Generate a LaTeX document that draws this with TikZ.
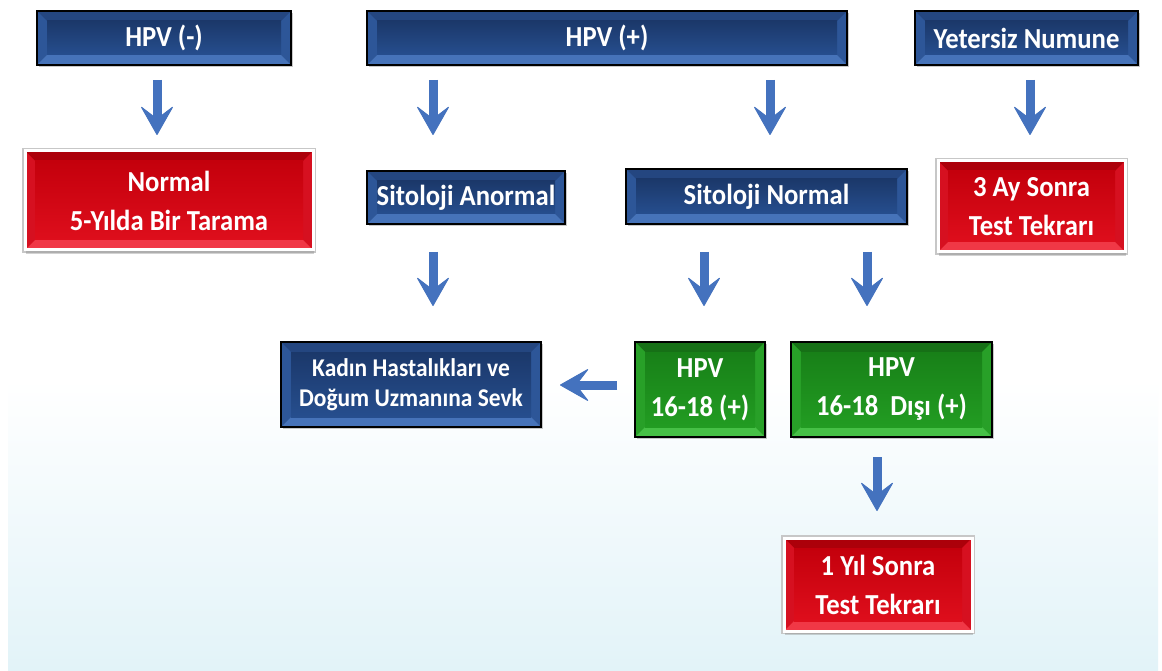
\documentclass[tikz,border=0pt]{standalone}
\usepackage{fontspec}
\setmainfont{Carlito}[FakeStretch=0.92]
\usetikzlibrary{arrows.meta,shadows}
\definecolor{arrowblue}{RGB}{68,114,190}
\definecolor{bgblue}{RGB}{226,243,248}
\definecolor{navyA}{RGB}{27,56,106}
\definecolor{navyB}{RGB}{38,78,142}
\definecolor{navyTop}{RGB}{36,70,128}
\definecolor{navySide}{RGB}{45,86,152}
\definecolor{navyBot}{RGB}{70,115,185}
\definecolor{grnA}{RGB}{24,128,24}
\definecolor{grnB}{RGB}{34,156,34}
\definecolor{grnTop}{RGB}{22,112,22}
\definecolor{grnSide}{RGB}{40,160,40}
\definecolor{grnBot}{RGB}{70,192,70}
\definecolor{redA}{RGB}{196,0,12}
\definecolor{redB}{RGB}{222,14,28}
\definecolor{redTop}{RGB}{172,0,10}
\definecolor{redSide}{RGB}{214,16,32}
\definecolor{redBot}{RGB}{240,56,70}
\tikzset{
  bevel/.style n args={5}{path picture={
    \fill[#3] (path picture bounding box.north west) -- (path picture bounding box.north east)
      -- ([shift={(-10,10)}]path picture bounding box.north east) -- ([shift={(10,10)}]path picture bounding box.north west) -- cycle;
    \fill[#4] (path picture bounding box.north west) -- ([shift={(10,10)}]path picture bounding box.north west)
      -- ([shift={(10,-10)}]path picture bounding box.south west) -- (path picture bounding box.south west) -- cycle;
    \fill[#4] (path picture bounding box.north east) -- ([shift={(-10,10)}]path picture bounding box.north east)
      -- ([shift={(-10,-10)}]path picture bounding box.south east) -- (path picture bounding box.south east) -- cycle;
    \fill[#5] (path picture bounding box.south west) -- (path picture bounding box.south east)
      -- ([shift={(-10,-10)}]path picture bounding box.south east) -- ([shift={(10,-10)}]path picture bounding box.south west) -- cycle;
    \shade[top color=#1, bottom color=#2] ([shift={(10,10)}]path picture bounding box.north west) rectangle ([shift={(-10,-10)}]path picture bounding box.south east);
  }},
  box/.style={inner sep=0pt, outer sep=0pt, align=center, text=white,
    font=\bfseries\fontsize{29}{39}\selectfont},
  bluebox/.style={box, draw=black, line width=2.5pt, fill=navyA,
    bevel={navyA}{navyB}{navyTop}{navySide}{navyBot},
    drop shadow={shadow xshift=1.5pt, shadow yshift=-2pt, fill=black!60, opacity=0.35}},
  greenbox/.style={box, draw=black, line width=2.5pt, fill=grnA,
    bevel={grnA}{grnB}{grnTop}{grnSide}{grnBot},
    drop shadow={shadow xshift=1.5pt, shadow yshift=-2pt, fill=black!60, opacity=0.35}},
  redbox/.style={box, draw=white, line width=3pt, fill=redA,
    preaction={draw=black!22, line width=6pt},
    bevel={redA}{redB}{redTop}{redSide}{redBot},
    drop shadow={shadow xshift=1pt, shadow yshift=-4pt, fill=black!50, opacity=0.35}},
  arr/.style={draw=arrowblue, line width=9pt,
    -{Stealth[length=30pt, width=34pt, inset=13pt, line width=1pt, round]}},
}
\begin{document}
\begin{tikzpicture}[x=1pt, y=-1pt]
\useasboundingbox (0,0) rectangle (1162,671);
\fill[white] (0,0) rectangle (1162,671);
\shade[top color=white, bottom color=bgblue] (8,380) rectangle (1158,671);

% top row
\node[bluebox, minimum width=254pt, minimum height=54pt] (hpvneg) at (164,38) {HPV (-)};
\node[bluebox, minimum width=480pt, minimum height=54pt] (hpvpos) at (607,38) {HPV (+)};
\node[bluebox, minimum width=223pt, minimum height=54pt] (yet) at (1026.5,38) {Yetersiz Numune};

% second row
\node[redbox, minimum width=288pt, minimum height=99pt] (normal) at (169,200.5) {Normal\\5-Yılda Bir Tarama};
\node[bluebox, minimum width=198pt, minimum height=53pt] (sitan) at (466,197.5) {Sitoloji Anormal};
\node[bluebox, minimum width=281pt, minimum height=55pt] (sitnorm) at (766.5,196.5) {Sitoloji Normal};
\node[redbox, minimum width=187pt, minimum height=91pt] (ucay) at (1031.5,206.5) {3 Ay Sonra\\Test Tekrarı};

% third row
\node[bluebox, minimum width=260pt, minimum height=85pt, font=\bfseries\fontsize{25.5}{30}\selectfont] (kadin) at (411,384.5) {Kadın Hastalıkları ve\\Doğum Uzmanına Sevk};
\node[greenbox, minimum width=130pt, minimum height=95pt] (hpv1618) at (700,389.5) {HPV\\16-18 (+)};
\node[greenbox, minimum width=201pt, minimum height=95pt] (disi) at (891.5,389.5) {HPV\\16-18~ Dışı (+)};

% bottom
\node[redbox, minimum width=188pt, minimum height=93pt] (biryil) at (878,584.5) {1 Yıl Sonra\\Test Tekrarı};

% arrows
\draw[arr, shorten <=15pt, shorten >=16pt] ([xshift=-7pt]hpvneg.south) -- ([xshift=-12pt]normal.north);
\draw[arr, shorten <=15pt, shorten >=36pt] ([xshift=-174pt]hpvpos.south) -- ([xshift=-33pt]sitan.north);
\draw[arr, shorten <=15pt, shorten >=34pt] ([xshift=163pt]hpvpos.south) -- ([xshift=3.5pt]sitnorm.north);
\draw[arr, shorten <=15pt, shorten >=26pt] ([xshift=3.5pt]yet.south) -- ([xshift=-1.5pt]ucay.north);
\draw[arr, shorten <=28pt, shorten >=36pt] ([xshift=-33pt]sitan.south) -- ([xshift=22pt]kadin.north);
\draw[arr, shorten <=28pt, shorten >=36pt] ([xshift=-62.5pt]sitnorm.south) -- ([xshift=4pt]hpv1618.north);
\draw[arr, shorten <=28pt, shorten >=36pt] ([xshift=100.5pt]sitnorm.south) -- ([xshift=-24.5pt]disi.north);
\draw[arr, shorten <=20pt, shorten >=27pt] ([xshift=-14.5pt]disi.south) -- ([xshift=-1pt]biryil.north);
\draw[arr, shorten <=18pt, shorten >=19pt] ([yshift=4.5pt]hpv1618.west) -- ([yshift=-0.5pt]kadin.east);
\end{tikzpicture}
\end{document}
